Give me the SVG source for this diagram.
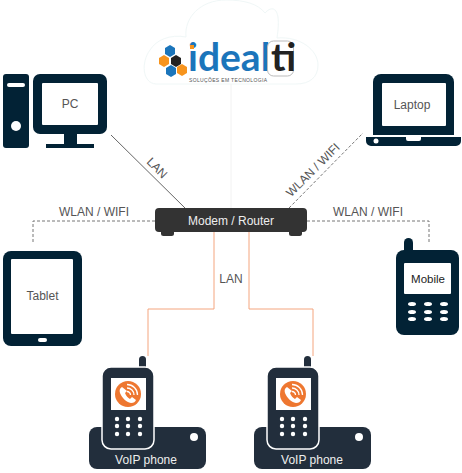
<svg xmlns="http://www.w3.org/2000/svg" width="462" height="473" viewBox="0 0 462 473">
<style>
text{font-family:"Liberation Sans",Arial,sans-serif;font-size:12px;fill:#555;text-anchor:middle}
.d{fill:#022235}.w{fill:#fff}.v{fill:#222e3c}
.dash{fill:none;stroke:#777;stroke-width:1;stroke-dasharray:3 2}
.or{fill:none;stroke:#f4a57f;stroke-width:1}
.logo{font-family:Lato,"Open Sans",sans-serif;font-weight:700;font-size:39px;text-anchor:start}
</style>
<defs>
<g id="voip">
<rect class="v" x="89" y="427" width="117" height="42" rx="8"/>
<circle class="w" cx="194" cy="437" r="4"/>
<rect class="v" x="139" y="356" width="7" height="16" rx="3.5"/>
<rect class="v" x="102" y="367" width="52" height="82" rx="9" stroke="#fff" stroke-width="1.5"/>
<rect class="w" x="111" y="378" width="35" height="32"/>
<circle cx="128" cy="394" r="13" fill="#ee7730"/>
<path d="M122 387c-2 1-3 3-2 6 2 5 6 9 11 10 3 0 4-1 5-3l-4-3-2 2c-2-1-4-3-5-6l2-2z" fill="#fff"/>
<path d="M127 388a7 7 0 0 1 7 7M127 384.500a10.500 10.500 0 0 1 10.500 10.500M127 391.500a3.500 3.500 0 0 1 3.500 3.500" fill="none" stroke="#fff" stroke-width="1.300"/>
<g class="w">
<circle cx="117" cy="419" r="2.200"/><circle cx="128" cy="419" r="2.200"/><circle cx="140" cy="419" r="2.200"/>
<circle cx="117" cy="426" r="2.200"/><circle cx="128" cy="426" r="2.200"/><circle cx="140" cy="426" r="2.200"/>
<circle cx="117" cy="434" r="2.200"/><circle cx="128" cy="434" r="2.200"/><circle cx="140" cy="434" r="2.200"/>
</g>
</g>
</defs>
<g id="cloud">
<path d="M156 84C142 83 141 62 150 50C156 40 170 34 186 37C184 18 200 0 226 0C245 0 258 4 265 13C272 5 282 6 277 38C300 36 318 50 318 65C318 77 310 84 296 84Z" fill="#fff" stroke="#f0f7f7" stroke-width="1"/>
</g>
<g id="connectors">
<path d="M231 84V208" stroke="#f2f2f2" stroke-width="1" fill="none"/>
<path d="M111 135L185 208" stroke="#666" stroke-width="1" fill="none"/>
<path class="dash" d="M289 208L363 133"/>
<path class="dash" d="M155 221H33V244"/>
<path class="dash" d="M307 221H429V244"/>
<path class="or" d="M214 232V309H148V356"/>
<path class="or" d="M249 232V309H313V356"/>
<text x="157" y="172" transform="rotate(45 157 168)">LAN</text>
<text x="313" y="174" transform="rotate(-45 313 170)">WLAN / WIFI</text>
<text x="94" y="216">WLAN / WIFI</text>
<text x="368" y="216">WLAN / WIFI</text>
<text x="231" y="283">LAN</text>
</g>
<g id="logo">
<polygon points="170,45 175,48 175,54 170,57 165,54 165,48" fill="#1b75bb"/>
<polygon points="164,55 169,58 169,64 164,67 159,64 159,58" fill="#f7941d"/>
<polygon points="176,55 181,58 181,64 176,67 171,64 171,58" fill="#222"/>
<polygon points="171,65 176,68 176,74 171,77 166,74 166,68" fill="#1b75bb"/>
<polygon points="182,64 187,67 187,73 182,76 177,73 177,67" fill="#f7941d"/>
<text x="188" y="71" class="logo" style="fill:#1b75bb">ideal</text>
<rect x="190" y="45" width="4" height="4" fill="#f7941d"/>
<rect x="267.500" y="41" width="26" height="35" rx="6" fill="#fff" stroke="#bbb" stroke-width="1"/>
<text x="271" y="71" class="logo" style="fill:#222">ti</text>
<text x="189" y="82" style="font-size:5px;fill:#555;text-anchor:start" textLength="78" lengthAdjust="spacing">SOLUÇÕES EM TECNOLOGIA</text>
</g>
<g id="pc">
<rect class="d" x="3" y="74" width="26" height="74" rx="3"/>
<rect class="w" x="7" y="83" width="18" height="4" rx="2"/>
<circle class="w" cx="16" cy="126" r="5"/>
<rect class="d" x="33" y="74" width="74" height="60" rx="7"/>
<rect class="w" x="42" y="83" width="56" height="42" rx="1"/>
<rect class="d" x="64" y="133" width="13" height="12"/>
<rect class="d" x="46" y="144" width="48" height="4"/>
<text x="70" y="108">PC</text>
</g>
<g id="laptop">
<path class="d" d="M373 135V82a8 8 0 0 1 8-8H446a8 8 0 0 1 8 8V135Z"/>
<rect class="w" x="382" y="83" width="64" height="43" rx="1"/>
<path class="d" d="M366 137H406V139a2 2 0 0 0 2 2H419a2 2 0 0 0 2-2V137H461V141a5 5 0 0 1-5 5H371a5 5 0 0 1-5-5Z"/>
<circle class="w" cx="376" cy="141" r="2.500"/>
<text x="412" y="109">Laptop</text>
</g>
<g id="router">
<rect x="161" y="228" width="13" height="8" rx="2.500" fill="#333"/>
<rect x="289" y="228" width="13" height="8" rx="2.500" fill="#333"/>
<rect x="155" y="208" width="152" height="24" rx="4" fill="#333"/>
<text x="231" y="225" style="fill:#eee">Modem / Router</text>
</g>
<g id="tablet">
<rect class="d" x="3" y="251" width="79" height="95" rx="8"/>
<rect class="w" x="11" y="259" width="62" height="75" rx="1"/>
<rect class="w" x="38" y="338" width="9" height="4" rx="2"/>
<text x="42.500" y="300">Tablet</text>
</g>
<g id="mobile">
<rect class="d" x="404" y="238" width="9" height="20" rx="4.500"/>
<rect class="d" x="396" y="250" width="63" height="85" rx="8"/>
<rect class="w" x="404" y="263" width="47" height="31" rx="1"/>
<g class="w">
<ellipse cx="412" cy="304" rx="4" ry="2"/><ellipse cx="428" cy="304" rx="4" ry="2"/><ellipse cx="444" cy="304" rx="4" ry="2"/>
<ellipse cx="412" cy="312" rx="4" ry="2"/><ellipse cx="428" cy="312" rx="4" ry="2"/><ellipse cx="444" cy="312" rx="4" ry="2"/>
<ellipse cx="412" cy="319" rx="4" ry="2"/><ellipse cx="428" cy="319" rx="4" ry="2"/><ellipse cx="444" cy="319" rx="4" ry="2"/>
</g>
<text x="428" y="283" style="font-size:11.500px;fill:#222">Mobile</text>
</g>
<g id="voip1">
<use href="#voip"/>
<text x="146" y="464" style="fill:#eee">VoIP phone</text>
</g>
<g id="voip2">
<use href="#voip" x="165"/>
<text x="312" y="464" style="fill:#eee">VoIP phone</text>
</g>
</svg>
